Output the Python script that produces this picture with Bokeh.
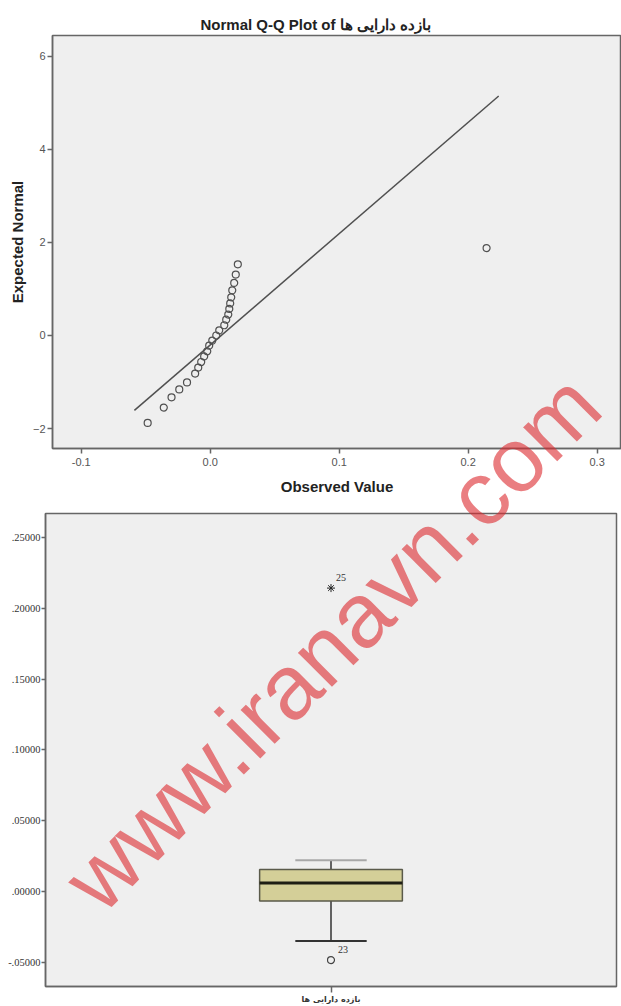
from bokeh.plotting import figure
from bokeh.layouts import column, row
from bokeh.models import FixedTicker, NumeralTickFormatter, Range1d, Title, Div
from bokeh.embed import file_html
from bokeh.resources import INLINE
from bokeh.core.properties import value

# ---------------- data ----------------
qq_title = "Normal Q-Q Plot of بازده دارایی ها"
variable_name = "بازده دارایی ها"

observed = [-0.0485, -0.0360, -0.0300, -0.0240, -0.0180, -0.0117, -0.0093,
            -0.0070, -0.0047, -0.0023, -0.0008, 0.0016, 0.0047, 0.0070,
            0.0109, 0.0124, 0.0140, 0.0148, 0.0155, 0.0163, 0.0171, 0.0186,
            0.0198, 0.0214, 0.2143]
expected = [-1.88, -1.55, -1.33, -1.16, -1.01, -0.82, -0.69, -0.57, -0.45,
            -0.34, -0.22, -0.11, 0.00, 0.11, 0.22, 0.34, 0.45, 0.57, 0.69,
            0.82, 0.97, 1.13, 1.31, 1.53, 1.88]
line_observed = [-0.0588, 0.2237]
line_expected = [-1.61, 5.15]
qq_x_ticks = [-0.1, 0.0, 0.1, 0.2, 0.3]
qq_y_ticks = [-2, 0, 2, 4, 6]

categories = [variable_name]
box_q1 = [-0.0068]
box_median = [0.0060]
box_q3 = [0.0155]
whisker_low = [-0.0350]
whisker_high = [0.0220]
outlier_values = [-0.0485]
outlier_cases = ["23"]
extreme_values = [0.2143]
extreme_cases = ["25"]
box_y_ticks = [-0.05, 0.0, 0.05, 0.10, 0.15, 0.20, 0.25]
box_y_labels = ["-.05000", ".00000", ".05000", ".10000", ".15000", ".20000", ".25000"]

watermark = "www.iranavn.com"

# ---------------- layout constants ----------------
W = 621
H1, H2 = 505, 501
F1 = dict(left=52, top=35, right=621, bottom=448)        # page pixels
F2 = dict(left=45, top=513, right=616, bottom=986)
X1 = (-0.1223, 0.3189)
Y1 = (-2.43, 6.45)
X2 = (0.0, float(len(categories)))
Y2 = (-0.0672, 0.267)
WM_CENTER = (327, 637)   # page pixels, centre of the watermark line box
WM_SIZE = 91

AX = "#666666"
TXT = "#555555"
BG = "#EFEFEF"


def style_axes(p):
    p.grid.visible = False
    p.outline_line_color = AX
    p.outline_line_width = 1.5
    for ax in list(p.xaxis) + list(p.yaxis):
        ax.axis_line_color = AX
        ax.axis_line_width = 1.5
        ax.major_tick_line_color = AX
        ax.major_tick_line_width = 1.5
        ax.major_tick_in = 0
        ax.major_tick_out = 5
        ax.minor_tick_in = 0
        ax.minor_tick_out = 0
        ax.minor_tick_line_color = None
        ax.major_label_text_color = TXT


# ---------------- Q-Q plot ----------------
p1 = figure(width=W, height=H1, output_backend="svg", toolbar_location=None,
            title=None, x_range=Range1d(*X1), y_range=Range1d(*Y1),
            min_border_left=F1["left"], min_border_right=W - F1["right"],
            min_border_top=F1["top"], min_border_bottom=H1 - F1["bottom"],
            background_fill_color=BG, border_fill_color="white")
style_axes(p1)
p1.xaxis.ticker = FixedTicker(ticks=qq_x_ticks)
p1.xaxis.formatter = NumeralTickFormatter(format="0.0")
p1.yaxis.ticker = FixedTicker(ticks=qq_y_ticks)
for ax in list(p1.xaxis) + list(p1.yaxis):
    ax.major_label_text_font = "Liberation Sans"
    ax.major_label_text_font_size = "11px"
    ax.axis_label_text_font = "Liberation Sans"
    ax.axis_label_text_font_size = "15px"
    ax.axis_label_text_font_style = "bold"
    ax.axis_label_text_color = "#222222"
p1.xaxis.axis_label = "Observed Value"
p1.yaxis.axis_label = "Expected Normal"
p1.xaxis.major_label_standoff = 4
p1.yaxis.major_label_standoff = 2
p1.xaxis.axis_label_standoff = 9
p1.yaxis.axis_label_standoff = 4

p1.add_layout(Title(text=qq_title, align="left", offset=148, standoff=5,
                    text_font="Liberation Sans", text_font_size="15px",
                    text_font_style="bold", text_color="#222222"), "above")

p1.line(line_observed, line_expected, line_color="#505050", line_width=1.5)
p1.scatter(observed, expected, marker="circle", size=7, fill_color=None,
           line_color="#505050", line_width=1.2)

# ---------------- Box plot ----------------
p2 = figure(width=W, height=H2, output_backend="svg", toolbar_location=None,
            title=None, x_range=Range1d(*X2), y_range=Range1d(*Y2),
            min_border_left=F2["left"], min_border_right=W - F2["right"],
            min_border_top=F2["top"] - H1, min_border_bottom=H1 + H2 - F2["bottom"],
            background_fill_color=BG, border_fill_color="white")
style_axes(p2)
pos = [i + 0.5 for i in range(len(categories))]
p2.xaxis.ticker = FixedTicker(ticks=pos)
p2.xaxis.major_label_overrides = {pp: c for pp, c in zip(pos, categories)}
p2.xaxis.major_tick_out = 6
p2.xaxis.major_label_standoff = 2
p2.xaxis.major_label_text_font = "DejaVu Sans"
p2.xaxis.major_label_text_font_size = "8px"
p2.xaxis.major_label_text_font_style = "bold"
p2.xaxis.major_label_text_color = "#333333"
p2.yaxis.ticker = FixedTicker(ticks=box_y_ticks)
p2.yaxis.major_label_overrides = dict(zip(box_y_ticks, box_y_labels))
p2.yaxis.major_label_text_font = "Liberation Serif"
p2.yaxis.major_label_text_font_size = "10.5px"
p2.yaxis.major_label_text_color = "#333333"
p2.yaxis.major_label_standoff = 1
p2.yaxis.axis_label_standoff = 0
p2.yaxis.major_tick_out = 4

box_w = 0.25
cap_w = 0.125
p2.segment(x0=pos, y0=whisker_low, x1=pos, y1=box_q1, line_color="#333333", line_width=1.5)
p2.segment(x0=pos, y0=box_q3, x1=pos, y1=whisker_high, line_color="#333333", line_width=1.5)
p2.segment(x0=[x - cap_w / 2 for x in pos], y0=whisker_low,
           x1=[x + cap_w / 2 for x in pos], y1=whisker_low,
           line_color="#333333", line_width=2)
p2.segment(x0=[x - cap_w / 2 for x in pos], y0=whisker_high,
           x1=[x + cap_w / 2 for x in pos], y1=whisker_high,
           line_color="#A8A8A8", line_width=2)
p2.vbar(x=pos, bottom=box_q1, top=box_q3, width=box_w, fill_color="#D4CF98",
        line_color="#5A5A4A", line_width=1.5)
p2.segment(x0=[x - box_w / 2 for x in pos], y0=box_median,
           x1=[x + box_w / 2 for x in pos], y1=box_median,
           line_color="#1E1E14", line_width=3)
p2.scatter(pos, outlier_values, marker="circle", size=7, fill_color=None,
           line_color="#444444", line_width=1.2)
p2.scatter(pos, extreme_values, marker="asterisk", size=8,
           line_color="#222222", line_width=1.0)
p2.text(pos, outlier_values, text=outlier_cases, x_offset=7, y_offset=-11,
        text_font=value("Liberation Serif"), text_font_size="10px",
        text_color="#333333", text_baseline="middle", text_align="left")
p2.text(pos, extreme_values, text=extreme_cases, x_offset=5, y_offset=-11,
        text_font=value("Liberation Serif"), text_font_size="10px",
        text_color="#333333", text_baseline="middle", text_align="left")

# ---------------- watermark over both charts ----------------
wm_html = (
    '<div style="position:absolute; left:%dpx; top:%dpx; '
    'transform: translate(-50%%,-50%%) rotate(-45deg); white-space:nowrap; '
    "font-family:'Liberation Sans'; font-size:%dpx; line-height:1; "
    'color: rgba(220,40,45,0.6);">%s</div>'
    % (WM_CENTER[0], WM_CENTER[1], WM_SIZE, watermark)
)
wm = Div(text=wm_html, width=W, height=H1 + H2,
         styles={"position": "absolute", "left": "0px", "top": "0px",
                 "pointer-events": "none", "z-index": "10"})

layout = column(row(p1), row(p2), wm, spacing=0)
open("out.html", "w").write(file_html(layout, INLINE))
